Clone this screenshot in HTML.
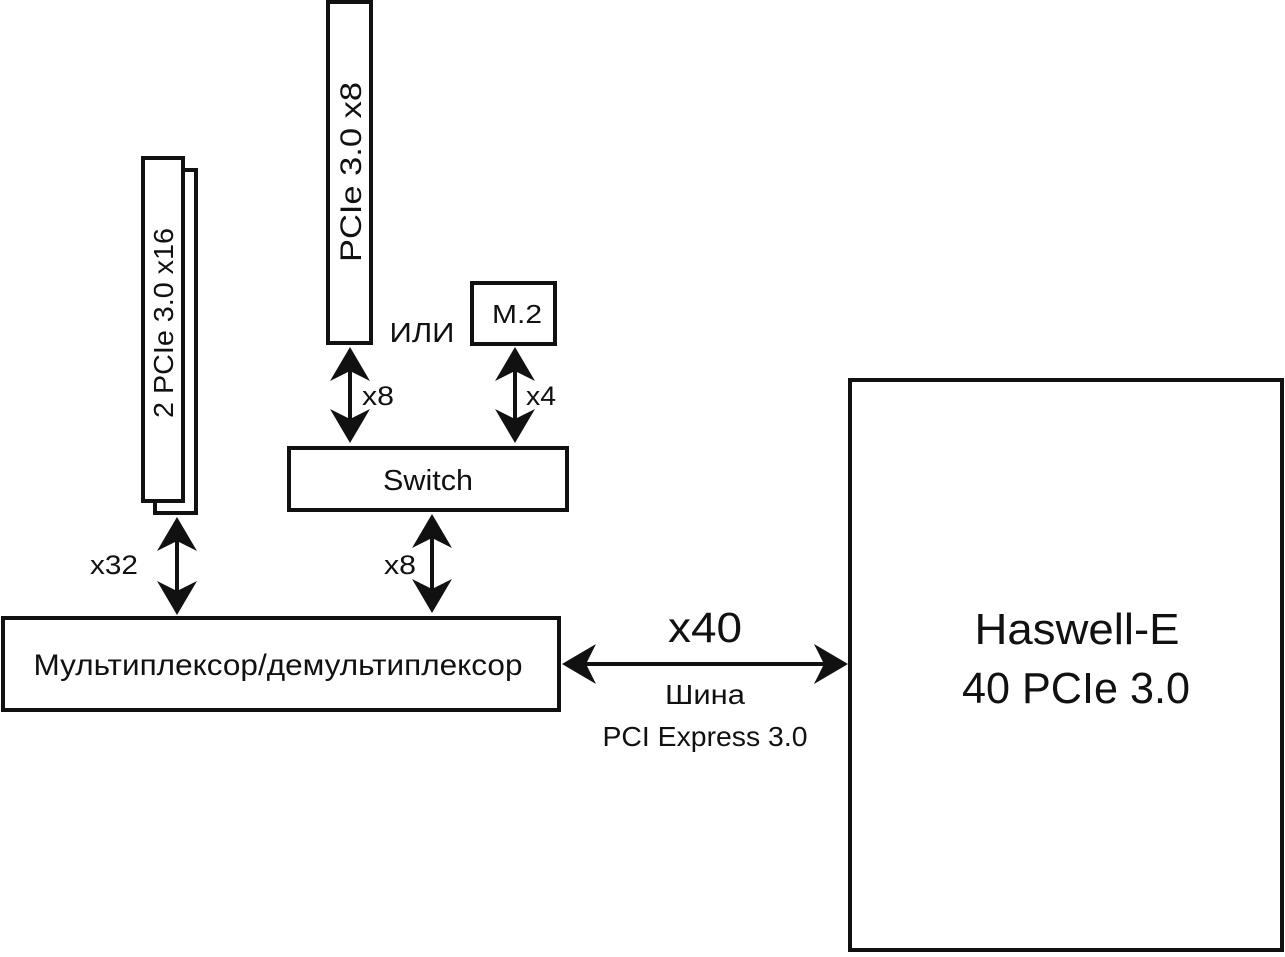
<!DOCTYPE html>
<html><head><meta charset="utf-8"><style>
body{margin:0;background:#fff}
text{font-family:"Liberation Sans","DejaVu Sans",sans-serif;fill:#111}
</style></head><body>
<svg width="1285" height="952" viewBox="0 0 1285 952" xmlns="http://www.w3.org/2000/svg">
<g fill="#fff" stroke="#111" stroke-width="4">
<rect x="155" y="170" width="41" height="343"/>
<rect x="143" y="158" width="40" height="343"/>
<rect x="328" y="2" width="43" height="341"/>
<rect x="472" y="283" width="83" height="61"/>
<rect x="289" y="448" width="278" height="62"/>
<rect x="3" y="618" width="556" height="92"/>
<rect x="850" y="380" width="432" height="570"/>
</g>
<g stroke="#111" stroke-width="4">
<line x1="350" y1="360" x2="350" y2="430"/>
<line x1="515" y1="360" x2="515" y2="430"/>
<line x1="432" y1="528" x2="432" y2="600"/>
<line x1="177" y1="530" x2="177" y2="602"/>
<line x1="575" y1="664" x2="835" y2="664"/>
</g>
<g fill="#111">
<path d="M350 347 L370 381 L350 371 L330 381Z"/><path d="M350 443 L370 409 L350 419 L330 409Z"/>
<path d="M515 347 L535 381 L515 371 L495 381Z"/><path d="M515 443 L535 409 L515 419 L495 409Z"/>
<path d="M432 514 L452 548 L432 538 L412 548Z"/><path d="M432 613 L452 579 L432 589 L412 579Z"/>
<path d="M177 517 L197 551 L177 541 L157 551Z"/><path d="M177 615 L197 581 L177 591 L157 581Z"/>
<path d="M562 664 L596 644 L586 664 L596 684Z"/><path d="M848 664 L814 644 L824 664 L814 684Z"/>
</g>
<text x="0" y="0" font-size="28" text-anchor="middle" textLength="190" lengthAdjust="spacingAndGlyphs" transform="translate(173 323) rotate(-90)">2 PCIe 3.0 x16</text>
<text x="0" y="0" font-size="30" text-anchor="middle" textLength="180" lengthAdjust="spacingAndGlyphs" transform="translate(361 172) rotate(-90)">PCIe 3.0 x8</text>
<text x="422" y="342" font-size="28" text-anchor="middle" textLength="65" lengthAdjust="spacingAndGlyphs">ИЛИ</text>
<text x="517" y="323" font-size="26" text-anchor="middle" textLength="50" lengthAdjust="spacingAndGlyphs">M.2</text>
<text x="378" y="405" font-size="27" text-anchor="middle" textLength="32" lengthAdjust="spacingAndGlyphs">x8</text>
<text x="541" y="405" font-size="27" text-anchor="middle" textLength="30" lengthAdjust="spacingAndGlyphs">x4</text>
<text x="428" y="490" font-size="29" text-anchor="middle" textLength="90" lengthAdjust="spacingAndGlyphs">Switch</text>
<text x="400" y="574" font-size="27" text-anchor="middle" textLength="32" lengthAdjust="spacingAndGlyphs">x8</text>
<text x="114" y="574" font-size="27" text-anchor="middle" textLength="48" lengthAdjust="spacingAndGlyphs">x32</text>
<text x="278" y="675" font-size="30" text-anchor="middle" textLength="489" lengthAdjust="spacingAndGlyphs">Мультиплексор/демультиплексор</text>
<text x="705" y="642" font-size="43" text-anchor="middle" textLength="74" lengthAdjust="spacingAndGlyphs">x40</text>
<text x="705" y="704" font-size="28" text-anchor="middle" textLength="80" lengthAdjust="spacingAndGlyphs">Шина</text>
<text x="705" y="746" font-size="28" text-anchor="middle" textLength="205" lengthAdjust="spacingAndGlyphs">PCI Express 3.0</text>
<text x="1077" y="644" font-size="44" text-anchor="middle" textLength="205" lengthAdjust="spacingAndGlyphs">Haswell-E</text>
<text x="1076" y="703" font-size="44" text-anchor="middle" textLength="228" lengthAdjust="spacingAndGlyphs">40 PCIe 3.0</text>
</svg>
</body></html>
